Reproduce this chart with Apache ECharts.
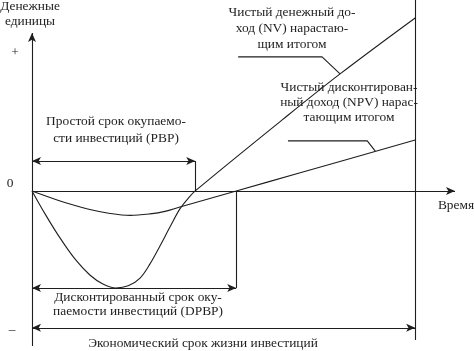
<!DOCTYPE html>
<html><head><meta charset="utf-8">
<script src="https://cdn.jsdelivr.net/npm/echarts@6/dist/echarts.min.js"></script>
<style>html,body{margin:0;padding:0;background:#fff}#c{width:474px;height:351px}</style>
</head><body><div id="c"></div>
<script>
// Cumulative net value (NV) and discounted (NPV) curves, arbitrary units
const nvX = [0, 3.4, 7.3, 11.2, 15.1, 18.5, 21.9, 25.1, 28.2, 30.8, 33.4, 36.0, 38.6, 40.7, 42.6, 65.3, 80.4, 100];
const nvY = [0, -12.0, -24.6, -35.6, -44.0, -48.7, -50.8, -49.7, -45.6, -38.2, -28.8, -18.9, -9.4, -4.0, 0, 37.2, 61.3, 90.6];
const npvX = [0, 4.7, 9.9, 15.1, 20.4, 25.6, 30.8, 34.7, 38.6, 53.3, 70.0, 100];
const npvY = [0, -3.4, -6.8, -9.7, -11.8, -12.8, -12.0, -10.7, -8.4, 0, 9.5, 26.7];
// Key time points
const pbp = 42.6;      // simple payback period
const dpbp = 53.3;     // discounted payback period
const lifeEnd = 100;   // economic life of investment
const nvMin = -50.8;   // minimum of NV
// Leader lines for the curve captions
const nvLeaderX = [53.8, 75.7, 80.4], nvLeaderY = [70.2, 70.2, 61.3];
const npvLeaderX = [66.8, 87.5, 89.6], npvLeaderY = [26.2, 26.2, 20.9];
// Texts
const yTickLabels = ['+', '0', '–'];
const yAxisTitle = 'Денежные\nединицы';
const xAxisTitle = 'Время';
const nvCaption = 'Чистый денежный до-\nход (NV) нарастаю-\nщим итогом';
const npvCaption = 'Чистый дисконтирован-\nный доход (NPV) нарас-\nтающим итогом';
const pbpCaption = 'Простой срок окупаемо-\nсти инвестиций (PBP)';
const dpbpCaption = 'Дисконтированный срок оку-\nпаемости инвестиций (DPBP)';
const lifeCaption = 'Экономический срок жизни инвестиций';

const X_MAX = 110.4, Y_MAX = 100, Y_MIN = -81.2;
const pbpArrowLevel = 15.7, lifeArrowLevel = -71.7, lifeTop = 100, lifeBottom = -78;

const ink = '#1e1e1e';
const font = '13.4px "Liberation Serif", "DejaVu Serif", serif';
const zip = (xs, ys) => xs.map((x, i) => [x, ys[i]]);
const lineSeries = (data, smooth) => ({
  type: 'line', data, smooth, symbol: 'none', silent: true,
  lineStyle: { color: ink, width: 1.1 }
});
const seg = (a, b, s0, s1) => [{ coord: a, symbol: s0 }, { coord: b, symbol: s1 }];

const chart = echarts.init(document.getElementById('c'), null, { renderer: 'canvas' });
const txt = (text, x, y, align, vAlign, lh) => ({
  type: 'text', silent: true,
  style: { text, x, y, font, fill: ink, align: align, verticalAlign: vAlign, textAlign: align, textVerticalAlign: vAlign, lineHeight: lh || 16 }
});
chart.setOption({
  animation: false,
  backgroundColor: '#fff',
  grid: { left: 32, right: 19, top: 0, bottom: 5 },
  xAxis: { type: 'value', min: 0, max: X_MAX, show: false },
  yAxis: { type: 'value', min: Y_MIN, max: Y_MAX, show: false },
  series: [
    lineSeries(zip(nvX, nvY), 0.35),
    lineSeries(zip(npvX, npvY), 0.35),
    lineSeries(zip(nvLeaderX, nvLeaderY), false),
    lineSeries(zip(npvLeaderX, npvLeaderY), false),
    {
      type: 'line', data: [], silent: true,
      markLine: {
        silent: true, animation: false,
        symbolSize: [6, 9],
        label: { show: false },
        lineStyle: { color: ink, width: 1.1, type: 'solid' },
        emphasis: { disabled: true },
        data: [
          seg([0, Y_MIN], [0, 82.7], 'none', 'arrow'),
          seg([0, 0], [X_MAX, 0], 'none', 'arrow'),
          seg([0, pbpArrowLevel], [pbp, pbpArrowLevel], 'arrow', 'arrow'),
          seg([pbp, pbpArrowLevel], [pbp, 0], 'none', 'none'),
          seg([0, nvMin], [dpbp, nvMin], 'arrow', 'arrow'),
          seg([dpbp, 0], [dpbp, nvMin], 'none', 'none'),
          seg([0, lifeArrowLevel], [lifeEnd, lifeArrowLevel], 'arrow', 'arrow'),
          seg([lifeEnd, lifeTop], [lifeEnd, lifeBottom], 'none', 'none')
        ]
      }
    }
  ],
  graphic: [
    txt(yAxisTitle, 30, -1.5, 'center', 'top', 15),
    txt(yTickLabels[0], 15, 52, 'center', 'middle'),
    txt(yTickLabels[1], 10, 183, 'center', 'middle'),
    txt(yTickLabels[2], 12, 329, 'center', 'middle'),
    txt(xAxisTitle, 456, 205, 'center', 'middle'),
    txt(pbpCaption, 116, 112.5, 'center', 'top', 17),
    txt(nvCaption, 292, 4, 'center', 'top', 16),
    txt(npvCaption, 349, 79.5, 'center', 'top', 15),
    txt(dpbpCaption, 138, 289.75, 'center', 'top', 14.5),
    txt(lifeCaption, 203, 343, 'center', 'middle')
  ]
});
</script></body></html>
